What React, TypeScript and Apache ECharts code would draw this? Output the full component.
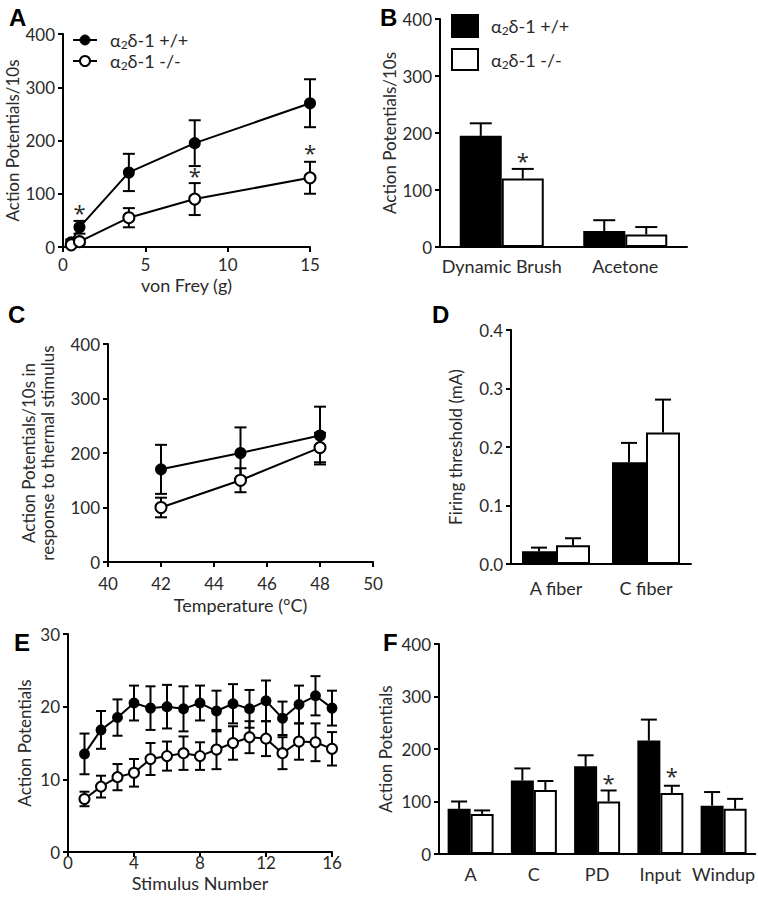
import React, { useEffect, useRef } from "react";
import * as echarts from "echarts";

// ---------- DATA ----------
// Panel A: von Frey
const vonFrey = [0.5, 1, 4, 8, 15];
const aWt = [9, 37, 140, 195, 270];
const aWtErr = [5, 12, 35, 43, 45];
const aKo = [4, 10, 55, 90, 130];
const aKoErr = [3, 5, 18, 30, 30];
const aStars = [[1, 66], [8, 135], [15, 178]];

// Panel B
const bCats = ["Dynamic Brush", "Acetone"];
const bWt = [195, 28];
const bWtErr = [22, 19];
const bKo = [120, 22];
const bKoErr = [17, 13];
const bStars = [[0, 152]];

// Panel C: thermal
const temps = [42, 45, 48];
const cWt = [170, 200, 232];
const cWtErr = [45, 47, 53];
const cKo = [100, 150, 210];
const cKoErr = [18, 22, 27];

// Panel D
const dCats = ["A fiber", "C fiber"];
const dWt = [0.022, 0.174];
const dWtErr = [0.006, 0.033];
const dKo = [0.032, 0.225];
const dKoErr = [0.012, 0.056];

// Panel E: windup
const stim = [1, 2, 3, 4, 5, 6, 7, 8, 9, 10, 11, 12, 13, 14, 15, 16];
const eWt = [13.5, 16.8, 18.5, 20.5, 19.8, 20.0, 19.7, 20.5, 19.4, 20.4, 19.7, 20.8, 18.4, 20.3, 21.5, 19.8];
const eWtErr = [2.8, 2.6, 2.5, 2.4, 3.0, 3.0, 3.1, 2.4, 2.8, 2.7, 2.6, 2.8, 2.3, 2.6, 2.7, 2.4];
const eKo = [7.3, 9.0, 10.3, 10.9, 12.8, 13.2, 13.6, 13.2, 14.1, 15.0, 15.8, 15.6, 13.6, 15.2, 15.1, 14.2];
const eKoErr = [1.0, 1.5, 1.8, 1.9, 2.2, 2.0, 2.3, 1.9, 2.7, 2.3, 2.2, 2.4, 2.2, 2.5, 2.6, 2.3];

// Panel F
const fCats = ["A", "C", "PD", "Input", "Windup"];
const fWt = [86, 140, 167, 216, 92];
const fWtErr = [14, 23, 21, 40, 26];
const fKo = [76, 122, 100, 116, 86];
const fKoErr = [7, 17, 21, 14, 19];
const fStars = [[2, 138], [3, 151]];

const legendWt = "α₂δ-1 +/+";
const legendKo = "α₂δ-1 -/-";

// ---------- STYLE ----------
const FONT = 'Lato, "Open Sans", sans-serif';
const STAR_FONT = '"Open Sans", sans-serif';
const TXT = "#2a2a2a";
const axisLine = { show: true, onZero: false, lineStyle: { color: "#000", width: 2 } };
const axisTick = { show: true, length: 5, lineStyle: { color: "#000", width: 2 } };
const labelStyle = (margin: number, size = 17) => ({ fontSize: size, color: TXT, fontFamily: FONT, margin });
const catLabel = (margin: number) => ({ fontSize: 18, color: TXT, fontFamily: FONT, margin, interval: 0 });
const nameStyle = { fontSize: 17, color: TXT, fontFamily: FONT, lineHeight: 19 };
const xNameStyle = { fontSize: 18, color: TXT, fontFamily: FONT };

function lineErr(cap: number) {
  return (params: any, api: any) => {
    const x = api.value(0), y = api.value(1), e = api.value(2);
    const t = api.coord([x, y + e]);
    const b = api.coord([x, y - e]);
    const st = { stroke: "#000", lineWidth: 2 };
    return {
      type: "group",
      children: [
        { type: "line", shape: { x1: t[0], y1: t[1], x2: b[0], y2: b[1] }, style: st },
        { type: "line", shape: { x1: t[0] - cap, y1: t[1], x2: t[0] + cap, y2: t[1] }, style: st },
        { type: "line", shape: { x1: b[0] - cap, y1: b[1], x2: b[0] + cap, y2: b[1] }, style: st },
      ],
    };
  };
}

function barErr(offset: number, cap: number) {
  return (params: any, api: any) => {
    const c = api.value(0), v = api.value(1), e = api.value(2);
    const p0 = api.coord([c, v]);
    const p1 = api.coord([c, v + e]);
    const x = p0[0] + offset;
    const st = { stroke: "#000", lineWidth: 2 };
    return {
      type: "group",
      children: [
        { type: "line", shape: { x1: x, y1: p0[1], x2: x, y2: p1[1] }, style: st },
        { type: "line", shape: { x1: x - cap, y1: p1[1], x2: x + cap, y2: p1[1] }, style: st },
      ],
    };
  };
}

function starRender(offset: number) {
  return (params: any, api: any) => {
    const p = api.coord([api.value(0), api.value(1)]);
    return {
      type: "text",
      x: p[0] + offset,
      y: p[1],
      style: { text: "*", fontSize: 22, fontFamily: STAR_FONT, fill: TXT, align: "center", verticalAlign: "middle" },
    };
  };
}

function lineSeries(xs: number[], ys: number[], idx: number, filled: boolean, size: number) {
  return {
    type: "line",
    xAxisIndex: idx,
    yAxisIndex: idx,
    data: xs.map((x, i) => [x, ys[i]]),
    symbol: "circle",
    symbolSize: size,
    z: 3,
    lineStyle: { color: "#000", width: 2 },
    itemStyle: { color: filled ? "#000" : "#fff", borderColor: "#000", borderWidth: 2 },
  };
}

function errSeries(xs: number[], ys: number[], es: number[], idx: number, cap: number) {
  return {
    type: "custom",
    xAxisIndex: idx,
    yAxisIndex: idx,
    z: 2,
    data: xs.map((x, i) => [x, ys[i], es[i]]),
    encode: { x: 0, y: 1 },
    renderItem: lineErr(cap),
  };
}

function barSeries(vals: number[], idx: number, filled: boolean, bw: number) {
  return {
    type: "bar",
    xAxisIndex: idx,
    yAxisIndex: idx,
    data: vals,
    barWidth: bw,
    barGap: "0%",
    z: 2,
    itemStyle: { color: filled ? "#000" : "#fff", borderColor: "#000", borderWidth: 2 },
  };
}

function barErrSeries(vals: number[], es: number[], idx: number, offset: number, cap: number) {
  return {
    type: "custom",
    xAxisIndex: idx,
    yAxisIndex: idx,
    z: 1,
    data: vals.map((v, i) => [i, v, es[i]]),
    encode: { x: 0, y: 1 },
    renderItem: barErr(offset, cap),
  };
}

function starSeries(pts: number[][], idx: number, offset: number) {
  return {
    type: "custom",
    xAxisIndex: idx,
    yAxisIndex: idx,
    z: 4,
    data: pts,
    encode: { x: 0, y: 1 },
    renderItem: starRender(offset),
  };
}

function richLegend(label: string) {
  const rest = label.slice(2);
  return `{t|α}{s|2}{t|${rest}}`;
}
const legendRich = {
  t: { fontSize: 18, fontFamily: FONT, fill: TXT, color: TXT, lineHeight: 20 },
  s: { fontSize: 12, fontFamily: FONT, fill: TXT, color: TXT, lineHeight: 20, verticalAlign: "bottom" },
};

function panelLetter(ch: string, x: number, y: number) {
  return {
    type: "text",
    x,
    y,
    style: { text: ch, fontSize: 24, fontWeight: "bold", fontFamily: '"Liberation Sans", Arial, sans-serif', fill: "#000" },
  };
}

export default function App() {
  const ref = useRef<HTMLDivElement>(null);
  useEffect(() => {
    document.body.style.margin = "0";
    const chart = echarts.init(ref.current!, undefined, { renderer: "svg" });
    const valAxisY = (idx: number, max: number, interval: number, name: string, gap: number, fmt?: any) => ({
      type: "value",
      gridIndex: idx,
      min: 0,
      max,
      interval,
      name,
      nameLocation: "middle",
      nameGap: gap,
      nameTextStyle: nameStyle,
      axisLine,
      axisTick,
      splitLine: { show: false },
      axisLabel: { ...labelStyle(8), formatter: fmt },
    });
    const option: any = {
      animation: false,
      backgroundColor: "#fff",
      grid: [
        { left: 63, top: 34, width: 247, height: 213 },
        { left: 440, top: 19, width: 247, height: 228 },
        { left: 108, top: 344, width: 265, height: 218 },
        { left: 511, top: 330, width: 180, height: 234 },
        { left: 68, top: 634, width: 264, height: 218 },
        { left: 439, top: 644, width: 318, height: 210 },
      ],
      xAxis: [
        { type: "value", gridIndex: 0, min: 0, max: 15, interval: 5, name: "von Frey (g)", nameLocation: "middle", nameGap: 29, nameTextStyle: xNameStyle, axisLine, axisTick, splitLine: { show: false }, axisLabel: labelStyle(9) },
        { type: "category", gridIndex: 1, data: bCats, axisLine, axisTick: { show: false }, axisLabel: catLabel(10) },
        { type: "value", gridIndex: 2, min: 40, max: 50, interval: 2, name: "Temperature (°C)", nameLocation: "middle", nameGap: 34, nameTextStyle: xNameStyle, axisLine, axisTick, splitLine: { show: false }, axisLabel: labelStyle(13) },
        { type: "category", gridIndex: 3, data: dCats, axisLine, axisTick: { show: false }, axisLabel: catLabel(15) },
        { type: "value", gridIndex: 4, min: 0, max: 16, interval: 4, name: "Stimulus Number", nameLocation: "middle", nameGap: 22, nameTextStyle: xNameStyle, axisLine, axisTick, splitLine: { show: false }, axisLabel: labelStyle(2) },
        { type: "category", gridIndex: 5, data: fCats, axisLine, axisTick: { show: false }, axisLabel: catLabel(11) },
      ],
      yAxis: [
        valAxisY(0, 400, 100, "Action Potentials/10s", 37),
        valAxisY(1, 400, 100, "Action Potentials/10s", 41),
        valAxisY(2, 400, 100, "Action Potentials/10s in\nresponse to thermal stimulus", 51),
        valAxisY(3, 0.4, 0.1, "Firing threshold (mA)", 46, (v: number) => v.toFixed(1)),
        valAxisY(4, 30, 10, "Action Potentials", 34),
        valAxisY(5, 400, 100, "Action Potentials", 44),
      ],
      series: [
        // A
        errSeries(vonFrey, aWt, aWtErr, 0, 6),
        errSeries(vonFrey, aKo, aKoErr, 0, 6),
        lineSeries(vonFrey, aWt, 0, true, 10),
        lineSeries(vonFrey, aKo, 0, false, 11),
        starSeries(aStars, 0, 0),
        // B
        barSeries(bWt, 1, true, 42),
        barSeries(bKo, 1, false, 42),
        barErrSeries(bWt, bWtErr, 1, -21, 11),
        barErrSeries(bKo, bKoErr, 1, 21, 11),
        starSeries(bStars, 1, 21),
        // C
        errSeries(temps, cWt, cWtErr, 2, 6),
        errSeries(temps, cKo, cKoErr, 2, 6),
        lineSeries(temps, cWt, 2, true, 10),
        lineSeries(temps, cKo, 2, false, 11),
        // D
        barSeries(dWt, 3, true, 34),
        barSeries(dKo, 3, false, 34),
        barErrSeries(dWt, dWtErr, 3, -17, 8),
        barErrSeries(dKo, dKoErr, 3, 17, 8),
        // E
        errSeries(stim, eWt, eWtErr, 4, 5),
        errSeries(stim, eKo, eKoErr, 4, 5),
        lineSeries(stim, eWt, 4, true, 9),
        lineSeries(stim, eKo, 4, false, 10),
        // F
        barSeries(fWt, 5, true, 23),
        barSeries(fKo, 5, false, 23),
        barErrSeries(fWt, fWtErr, 5, -11.5, 8),
        barErrSeries(fKo, fKoErr, 5, 11.5, 8),
        starSeries(fStars, 5, 11.5),
      ],
      graphic: [
        panelLetter("A", 9, 5),
        panelLetter("B", 380, 5),
        panelLetter("C", 8, 302),
        panelLetter("D", 432, 302),
        panelLetter("E", 14, 630),
        panelLetter("F", 383, 630),
        // Legend A
        { type: "line", shape: { x1: 73, y1: 40, x2: 97, y2: 40 }, style: { stroke: "#000", lineWidth: 2 } },
        { type: "circle", shape: { cx: 85, cy: 40, r: 5 }, style: { fill: "#000", stroke: "#000", lineWidth: 1 } },
        { type: "line", shape: { x1: 73, y1: 61, x2: 97, y2: 61 }, style: { stroke: "#000", lineWidth: 2 } },
        { type: "circle", shape: { cx: 85, cy: 61, r: 5 }, style: { fill: "#fff", stroke: "#000", lineWidth: 2 } },
        { type: "text", x: 110, y: 40, style: { text: richLegend(legendWt), rich: legendRich, verticalAlign: "middle", fill: TXT } },
        { type: "text", x: 110, y: 61, style: { text: richLegend(legendKo), rich: legendRich, verticalAlign: "middle", fill: TXT } },
        // Legend B
        { type: "rect", shape: { x: 452, y: 15, width: 26, height: 22 }, style: { fill: "#000", stroke: "#000", lineWidth: 2 } },
        { type: "rect", shape: { x: 452, y: 49, width: 26, height: 21 }, style: { fill: "#fff", stroke: "#000", lineWidth: 2 } },
        { type: "text", x: 491, y: 26, style: { text: richLegend(legendWt), rich: legendRich, verticalAlign: "middle", fill: TXT } },
        { type: "text", x: 491, y: 60, style: { text: richLegend(legendKo), rich: legendRich, verticalAlign: "middle", fill: TXT } },
      ],
    };
    chart.setOption(option);
    return () => chart.dispose();
  }, []);
  return <div ref={ref} style={{ width: 758, height: 900, position: "absolute", left: 0, top: 0 }} />;
}
